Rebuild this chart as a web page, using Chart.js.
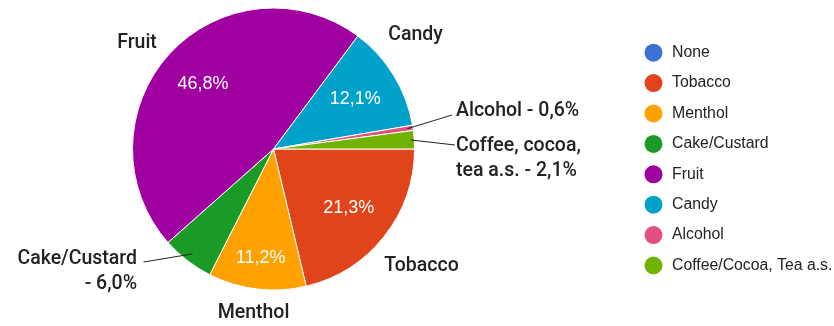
<!DOCTYPE html>
<html>
<head>
<meta charset="utf-8">
<script src="https://cdn.jsdelivr.net/npm/chart.js@4.4.0/dist/chart.umd.min.js"></script>
<style>
  html, body { margin: 0; padding: 0; background: #fff; }
  canvas { display: block; }
</style>
</head>
<body>
<canvas id="myChart" width="834" height="326"></canvas>
<script>
// legend names and shares (percent)
var labels = ['None', 'Tobacco', 'Menthol', 'Cake/Custard', 'Fruit', 'Candy', 'Alcohol', 'Coffee/Cocoa, Tea a.s.'];
var shares = [0, 21.3, 11.2, 6.0, 46.8, 12.1, 0.6, 2.1];
var colors = ['#3d71d6', '#e0441b', '#ffa100', '#1a9b27', '#a000a0', '#00a2cb', '#e1507f', '#6fb300'];
// text written beside each slice
var callouts = [[], ['Tobacco'], ['Menthol'], ['Cake/Custard', '- 6,0%'], ['Fruit'], ['Candy'],
                ['Alcohol - 0,6%'], ['Coffee, cocoa,', 'tea a.s. - 2,1%']];

function pct(v) {
  return v.toFixed(1).replace('.', ',') + '%';
}

// where the callouts sit, relative to the pie centre
var calloutPlace = {
  1: {dx: 148, dy: 117, align: 'center'},
  2: {dx: -20, dy: 164, align: 'center'},
  3: {dx: -136.5, dy: 110, align: 'right', line: [-130, 113], lineR: 0.94},
  4: {dx: -136.5, dy: -106, align: 'center'},
  5: {dx: 142, dy: -114, align: 'center'},
  6: {dx: 182.5, dy: -38, align: 'left', line: [178.5, -34], lineR: 0.96},
  7: {dx: 182.5, dy: -3, align: 'left', line: [181.5, -4], lineR: 0.975}
};
var insideR = {2: 0.78};

var labelPlugin = {
  id: 'labelPlugin',
  afterDatasetsDraw: function(chart) {
    var ctx = chart.ctx;
    var meta = chart.getDatasetMeta(0);
    ctx.save();
    meta.data.forEach(function(arc, i) {
      var mid = (arc.startAngle + arc.endAngle) / 2;
      var R = arc.outerRadius;
      // percentage inside the big slices
      if (shares[i] >= 10) {
        var f = insideR[i] || 0.68;
        ctx.fillStyle = '#fff';
        ctx.font = '18px "Liberation Sans", Arial, sans-serif';
        ctx.textAlign = 'center';
        ctx.textBaseline = 'middle';
        ctx.fillText(pct(shares[i]), arc.x + Math.cos(mid) * R * f, arc.y + Math.sin(mid) * R * f);
      }
      var p = calloutPlace[i];
      if (!p) return;
      if (p.line) {
        ctx.strokeStyle = '#222';
        ctx.lineWidth = 1;
        ctx.beginPath();
        ctx.moveTo(arc.x + p.line[0], arc.y + p.line[1]);
        ctx.lineTo(arc.x + Math.cos(mid) * R * p.lineR, arc.y + Math.sin(mid) * R * p.lineR);
        ctx.stroke();
      }
      ctx.fillStyle = '#222';
      ctx.font = '500 19.5px Roboto, sans-serif';
      ctx.textAlign = p.align;
      ctx.textBaseline = 'middle';
      callouts[i].forEach(function(t, k) {
        ctx.fillText(t, arc.x + p.dx, arc.y + p.dy + k * 25.5);
      });
    });
    ctx.restore();
  },
  afterDraw: function(chart) {
    var ctx = chart.ctx;
    ctx.save();
    labels.forEach(function(name, i) {
      var y = 52.7 + i * 30.4;
      ctx.fillStyle = colors[i];
      ctx.beginPath();
      ctx.arc(653.5, y, 9, 0, Math.PI * 2);
      ctx.fill();
      ctx.fillStyle = '#222';
      ctx.font = '15.8px "Liberation Sans", Arial, sans-serif';
      ctx.textAlign = 'left';
      ctx.textBaseline = 'middle';
      ctx.fillText(name, 672, y);
    });
    ctx.restore();
  }
};

function createChart() {
  var ctx = document.getElementById('myChart').getContext('2d');
  var chart = new Chart(ctx, {
    type: 'pie',
    data: {
      labels: labels,
      datasets: [{
        data: shares,
        backgroundColor: colors,
        borderColor: '#fff',
        borderWidth: shares.map(function(v) { return v > 0 ? 1 : 0; })
      }]
    },
    options: {
      responsive: false,
      animation: false,
      devicePixelRatio: 1,
      rotation: 90,
      layout: {padding: {left: 132, right: 419, top: 7, bottom: 35}},
      plugins: {
        legend: {display: false},
        tooltip: {enabled: false}
      }
    },
    plugins: [labelPlugin]
  });
}

createChart();
</script>
</body>
</html>
